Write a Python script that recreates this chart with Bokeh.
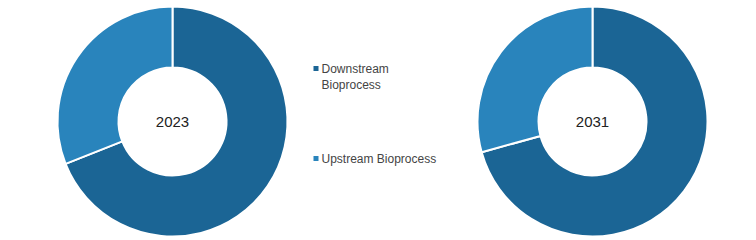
import math
from bokeh.plotting import figure
from bokeh.models import Range1d, ColumnDataSource
from bokeh.core.properties import value
from bokeh.embed import file_html
from bokeh.resources import INLINE

# Market share by segment (%)
segments = ["Downstream Bioprocess", "Upstream Bioprocess"]
years = ["2023", "2031"]
share_2023 = [69.0, 31.0]
share_2031 = [70.7, 29.3]
colors = ["#1b6595", "#2984bc"]

W, H = 756, 240
p = figure(width=W, height=H, output_backend="svg", toolbar_location=None,
           x_range=Range1d(0, W), y_range=Range1d(0, H), min_border=0)
p.axis.visible = False
p.grid.visible = False
p.outline_line_color = None
p.background_fill_color = "white"
p.border_fill_color = "white"

centers = [(172, 119), (592, 119)]
outer_r, inner_r = 115, 54

for (cx, cy), year, shares in zip(centers, years, [share_2023, share_2031]):
    total = sum(shares)
    starts, ends = [], []
    acc = 0.0
    for s in shares:
        a0 = math.pi / 2 - 2 * math.pi * (acc + s) / total
        a1 = math.pi / 2 - 2 * math.pi * acc / total
        starts.append(a0)
        ends.append(a1)
        acc += s
    src = ColumnDataSource(dict(start=starts, end=ends, color=colors,
                                x=[cx] * len(shares), y=[cy] * len(shares)))
    p.annular_wedge(x="x", y="y", inner_radius=inner_r, outer_radius=outer_r,
                    start_angle="start", end_angle="end", fill_color="color",
                    line_color="white", line_width=2, source=src)
    p.text(x=[cx], y=[cy], text=[year], text_align="center",
           text_baseline="middle", text_font=value("Liberation Sans"),
           text_font_size="15px", text_color="#222222")

# Legend
legend_lines = [["Downstream", "Bioprocess"], ["Upstream Bioprocess"]]
legend_y = [172, 82]
for lines, ly, c in zip(legend_lines, legend_y, colors):
    p.rect(x=[315.5], y=[ly], width=5, height=5, fill_color=c, line_color=None)
    for i, t in enumerate(lines):
        p.text(x=[321], y=[ly - i * 16], text=[t], text_align="left",
               text_baseline="middle", text_font=value("Liberation Sans"),
               text_font_size="12px", text_color="#444444")

open("out.html", "w").write(file_html(p, INLINE))
